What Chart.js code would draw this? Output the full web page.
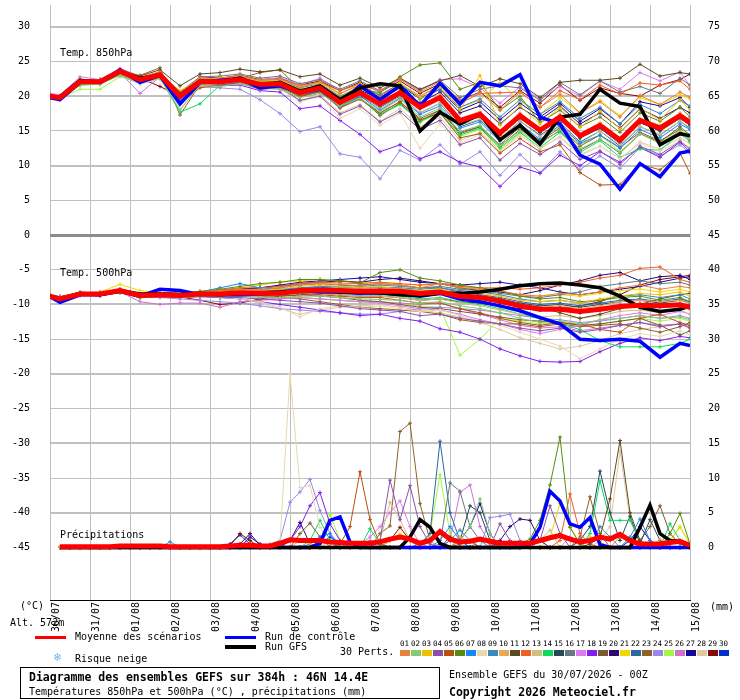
<!DOCTYPE html>
<html>
<head>
<meta charset="utf-8">
<script src="https://cdn.jsdelivr.net/npm/chart.js@4.4.1/dist/chart.umd.min.js"></script>
<style>
  body { margin: 0; background: #fff; }
  #wrap { position: relative; width: 740px; height: 700px; background: #fff; overflow: hidden; }
  #chart { position: absolute; left: 0; top: 0; }
  .t { position: absolute; font: 10px 'DejaVu Sans Mono', monospace; line-height: 12px; white-space: pre; color: #000; }
  .b { font-weight: bold; font-size: 11.5px; }
  .ln { position: absolute; }
  .num { position: absolute; font: 7.5px 'DejaVu Sans Mono', monospace; line-height: 8px; color: #000; }
  .sw { position: absolute; width: 10px; height: 6px; }
</style>
</head>
<body>
<div id="wrap">
  <canvas id="chart" width="740" height="700"></canvas>
  <div class="t" style="left:20px;top:600px">(°C)</div>
  <div class="t" style="left:10px;top:617px">Alt. 572m</div>
  <div class="t" style="left:710px;top:601px">(mm)</div>
  <div class="ln" style="left:35px;top:636px;width:31px;height:3px;background:#ff0000"></div>
  <div class="t" style="left:75px;top:631px">Moyenne des scénarios</div>
  <div class="ln" style="left:225px;top:636px;width:31px;height:3px;background:#0000ff"></div>
  <div class="t" style="left:265px;top:631px">Run de contrôle</div>
  <div class="ln" style="left:225px;top:645px;width:31px;height:4px;background:#000"></div>
  <div class="t" style="left:265px;top:641px">Run GFS</div>
  <div class="t" style="left:340px;top:646px">30 Perts.</div>
  <div class="t" style="left:54px;top:651px;font-size:12px;color:#6ab4f0">❄</div>
  <div class="t" style="left:75px;top:653px">Risque neige</div>
  <div id="perts"></div>
  <div style="position:absolute;left:20px;top:667px;width:418px;height:30px;border:1px solid #000"></div>
  <div class="t b" style="left:29px;top:671px">Diagramme des ensembles GEFS sur 384h : 46N 14.4E</div>
  <div class="t" style="left:29px;top:686px">Températures 850hPa et 500hPa (°C) , précipitations (mm)</div>
  <div class="t" style="left:449px;top:669px">Ensemble GEFS du 30/07/2026 - 00Z</div>
  <div class="t b" style="left:449px;top:686px">Copyright 2026 Meteociel.fr</div>
</div>
<script>
// time grid (hours since run start)
const hours12 = [0, 6, 18, 30, 42, 54, 66, 78, 90, 102, 114, 126, 138, 150, 162, 174, 186, 198, 210, 222, 234, 246, 258, 270, 282, 294, 306, 318, 330, 342, 354, 366, 378, 384];
const hours6 = [6, 12, 18, 24, 30, 36, 42, 48, 54, 60, 66, 72, 78, 84, 90, 96, 102, 108, 114, 120, 126, 132, 138, 144, 150, 156, 162, 168, 174, 180, 186, 192, 198, 204, 210, 216, 222, 228, 234, 240, 246, 252, 258, 264, 270, 276, 282, 288, 294, 300, 306, 312, 318, 324, 330, 336, 342, 348, 354, 360, 366, 372, 378, 384];
const dayHours = [0, 24, 48, 72, 96, 120, 144, 168, 192, 216, 240, 264, 288, 312, 336, 360, 384];
const dayLabels = ['30/07', '31/07', '01/08', '02/08', '03/08', '04/08', '05/08', '06/08', '07/08', '08/08', '09/08', '10/08', '11/08', '12/08', '13/08', '14/08', '15/08'];
const leftTicks = [-45, -40, -35, -30, -25, -20, -15, -10, -5, 0, 5, 10, 15, 20, 25, 30];
const rightTicks = [0, 5, 10, 15, 20, 25, 30, 35, 40, 45, 50, 55, 60, 65, 70, 75];

const pertLabels = ['01','02','03','04','05','06','07','08','09','10','11','12','13','14','15','16','17','18','19','20','21','22','23','24','25','26','27','28','29','30'];
const pertColors = ['#e8823a','#88c870','#f0c000','#8c50a8','#b85010','#5a8a10','#1888f8','#e8d8b0','#3a8ab8','#e8a858','#5a4a20','#f06020','#d0c080','#10d860','#284858','#687880','#e078f0','#8020f0','#7a5a30','#300870','#f0d800','#2a68a0','#906028','#9888e8','#a0f840','#d070d0','#180898','#e0c8a0','#880808','#0030c8'];

// Temp 850 hPa
const mean850 = [20.0, 19.8, 22.1, 22.1, 23.6, 22.4, 23.1, 20.0, 22.1, 22.1, 22.4, 21.7, 21.8, 20.5, 21.2, 19.1, 20.5, 18.9, 20.5, 18.4, 19.8, 16.5, 17.4, 14.7, 17.2, 15.1, 17.0, 14.3, 15.8, 13.7, 16.5, 15.4, 17.2, 16.2];
const ctrl850 = [19.8, 19.5, 22.0, 22.0, 23.8, 22.0, 23.0, 18.9, 22.0, 22.3, 22.5, 21.2, 21.5, 20.5, 21.0, 19.0, 21.5, 19.5, 21.5, 18.6, 21.9, 18.9, 22.0, 21.5, 23.1, 17.0, 16.0, 11.5, 10.2, 6.6, 10.3, 8.4, 11.8, 12.1];
const gfs850 = [20.0, 19.9, 22.3, 22.0, 23.5, 22.6, 23.0, 20.2, 22.2, 22.0, 22.6, 21.5, 22.0, 20.7, 21.5, 19.5, 21.2, 21.8, 21.5, 15.0, 17.7, 16.0, 17.4, 13.7, 15.8, 13.1, 17.0, 17.4, 21.0, 19.0, 18.5, 13.0, 14.6, 14.3];
const perts850 = [
  [20.3, 19.9, 22.4, 22.2, 23.9, 22.7, 23.5, 20.6, 22.6, 22.4, 23.0, 22.3, 22.5, 21.3, 22.1, 20.4, 21.6, 20.8, 22.5, 20.6, 22.1, 19.4, 20.5, 18.0, 20.6, 18.4, 20.3, 17.6, 19.2, 17.0, 20.1, 18.8, 20.6, 19.8],
  [19.8, 19.6, 21.6, 21.7, 23.1, 21.9, 22.6, 18.0, 21.6, 21.4, 21.8, 21.2, 21.0, 19.8, 20.4, 18.6, 19.7, 17.8, 19.6, 17.0, 18.3, 14.9, 15.8, 12.9, 15.0, 13.0, 15.2, 12.4, 13.8, 11.9, 14.6, 13.2, 15.0, 14.1],
  [20.1, 19.8, 22.2, 22.3, 23.7, 22.3, 23.2, 20.8, 22.4, 22.6, 22.7, 22.2, 22.3, 21.4, 21.9, 20.3, 21.8, 19.6, 21.9, 19.9, 21.5, 18.0, 23.0, 15.8, 18.6, 16.0, 18.4, 15.5, 17.8, 15.3, 18.3, 16.6, 19.5, 18.0],
  [19.9, 19.7, 22.0, 22.0, 23.4, 22.2, 22.9, 19.5, 21.9, 21.7, 21.9, 21.0, 21.2, 19.4, 20.0, 17.4, 18.6, 16.3, 17.8, 15.2, 16.5, 13.0, 14.0, 10.8, 13.2, 11.6, 13.4, 10.9, 12.1, 10.2, 12.8, 11.6, 13.5, 12.4],
  [19.7, 19.5, 21.8, 21.9, 23.2, 22.0, 22.7, 19.0, 21.2, 21.6, 22.0, 21.4, 21.5, 20.0, 20.6, 18.3, 19.6, 17.6, 19.2, 16.6, 17.6, 14.0, 14.6, 11.8, 13.9, 12.0, 13.0, 9.0, 7.2, 7.3, 10.2, 9.4, 11.8, 8.9],
  [20.0, 19.9, 22.2, 22.1, 23.5, 22.5, 23.0, 19.8, 22.3, 22.5, 22.7, 22.0, 22.2, 21.0, 21.5, 19.8, 21.0, 20.5, 22.8, 24.5, 24.8, 21.0, 22.0, 18.0, 20.0, 16.2, 18.0, 15.6, 17.0, 14.8, 17.6, 16.4, 18.4, 17.0],
  [19.9, 19.8, 21.9, 22.0, 23.4, 22.3, 22.9, 19.4, 21.8, 21.9, 22.2, 21.4, 21.6, 20.0, 20.8, 18.4, 20.0, 18.0, 19.7, 17.4, 18.6, 15.4, 16.3, 13.5, 16.0, 13.8, 15.8, 13.2, 14.4, 12.5, 15.2, 14.0, 16.0, 15.2],
  [19.9, 19.7, 21.8, 21.9, 23.2, 21.8, 22.5, 18.2, 21.5, 21.7, 22.0, 21.0, 21.2, 19.2, 20.0, 16.8, 18.2, 15.8, 17.6, 12.5, 16.0, 13.2, 14.5, 12.0, 14.4, 12.6, 14.0, 11.4, 12.8, 11.0, 13.2, 12.1, 13.6, 12.6],
  [20.1, 20.0, 22.3, 22.4, 23.7, 22.6, 23.3, 20.3, 22.5, 22.3, 22.8, 22.2, 22.4, 21.2, 21.8, 20.0, 21.3, 20.2, 21.8, 19.8, 21.0, 18.4, 19.6, 17.0, 19.5, 17.4, 19.2, 16.8, 18.4, 16.0, 18.8, 17.5, 19.4, 18.6],
  [20.0, 19.8, 22.0, 22.2, 23.6, 22.4, 23.0, 20.0, 22.0, 22.2, 22.5, 21.8, 21.9, 20.6, 21.4, 19.4, 20.6, 19.0, 20.8, 18.6, 20.2, 16.8, 17.8, 15.0, 17.6, 15.4, 17.4, 14.6, 16.2, 14.0, 16.8, 15.8, 17.6, 16.6],
  [20.2, 20.0, 22.3, 22.4, 23.8, 22.9, 23.8, 21.5, 23.2, 23.4, 23.9, 23.5, 23.8, 22.8, 23.2, 21.6, 22.6, 21.2, 22.6, 21.0, 22.2, 23.0, 21.4, 22.5, 21.8, 19.8, 22.0, 22.3, 22.3, 22.6, 24.6, 22.9, 23.4, 23.2],
  [20.1, 19.9, 22.3, 22.3, 23.8, 22.6, 23.3, 20.4, 22.4, 22.6, 23.0, 22.2, 22.4, 21.5, 22.0, 20.8, 21.8, 20.0, 21.8, 20.0, 21.6, 19.0, 20.4, 20.5, 20.6, 18.4, 20.8, 19.5, 21.6, 20.3, 21.9, 21.6, 22.2, 21.0],
  [19.9, 19.8, 21.9, 22.0, 23.4, 22.2, 22.8, 19.6, 21.7, 21.8, 22.0, 21.3, 21.5, 20.2, 20.9, 18.8, 20.2, 18.2, 19.9, 17.6, 19.0, 15.8, 16.7, 14.0, 16.4, 14.2, 16.0, 13.2, 15.0, 13.0, 15.6, 14.5, 16.4, 15.2],
  [19.9, 19.6, 21.6, 21.8, 23.2, 22.0, 22.6, 17.7, 18.9, 21.6, 21.8, 21.1, 21.4, 20.0, 20.6, 18.6, 19.6, 17.4, 18.8, 16.4, 17.6, 14.4, 15.4, 12.6, 14.8, 12.6, 14.8, 11.9, 13.6, 11.2, 12.4, 12.2, 14.6, 13.5],
  [20.0, 19.7, 22.1, 22.0, 23.5, 22.5, 23.1, 19.9, 22.2, 22.0, 22.5, 21.8, 22.0, 20.4, 21.0, 19.0, 20.5, 18.8, 20.4, 18.2, 19.6, 16.2, 17.0, 14.4, 16.8, 14.8, 16.6, 14.0, 15.4, 13.4, 16.2, 15.0, 16.8, 15.8],
  [20.1, 20.0, 22.4, 22.3, 23.8, 22.7, 23.5, 20.6, 22.8, 22.9, 23.2, 22.6, 22.9, 21.8, 22.4, 21.0, 22.2, 20.8, 22.6, 20.9, 22.3, 19.8, 21.0, 21.5, 21.2, 19.4, 22.0, 20.2, 22.2, 20.6, 21.4, 20.4, 22.6, 21.6],
  [20.4, 20.2, 22.8, 22.4, 24.0, 22.9, 22.6, 20.3, 22.7, 22.5, 22.8, 22.3, 22.7, 21.6, 22.6, 20.8, 21.8, 20.6, 22.4, 20.8, 22.4, 22.5, 21.2, 19.0, 21.4, 19.6, 21.4, 20.0, 22.2, 21.0, 23.4, 22.2, 23.5, 21.5],
  [19.9, 19.6, 21.9, 21.9, 23.3, 22.1, 22.8, 19.2, 21.6, 21.5, 21.6, 20.8, 20.6, 18.2, 18.6, 16.5, 14.5, 12.0, 13.0, 11.0, 12.0, 10.5, 9.8, 7.0, 9.8, 8.9, 11.5, 10.0, 12.0, 10.5, 12.6, 11.2, 13.4, 12.0],
  [19.8, 19.7, 21.8, 22.0, 23.3, 22.2, 22.7, 19.0, 21.9, 21.6, 22.0, 21.2, 21.3, 19.9, 20.7, 18.4, 19.8, 17.2, 19.0, 16.4, 18.0, 14.6, 15.6, 12.8, 15.2, 13.4, 15.0, 12.2, 13.8, 11.8, 14.6, 13.4, 15.6, 14.4],
  [20.0, 19.9, 22.2, 22.2, 23.6, 22.6, 23.2, 20.2, 22.3, 22.2, 22.6, 21.9, 22.1, 20.8, 21.5, 19.6, 20.9, 19.6, 21.2, 19.0, 20.6, 17.6, 18.6, 16.0, 18.4, 16.6, 18.6, 16.0, 17.6, 15.4, 18.2, 16.8, 18.4, 17.6],
  [20.1, 19.9, 22.3, 22.3, 23.7, 22.5, 23.3, 20.4, 22.5, 22.4, 22.8, 22.0, 22.2, 21.0, 21.6, 20.0, 21.4, 20.0, 22.0, 19.6, 21.2, 18.4, 19.4, 22.0, 19.3, 17.4, 19.8, 17.6, 19.4, 17.2, 19.8, 18.8, 20.2, 19.6],
  [19.9, 19.7, 21.9, 22.0, 23.4, 22.3, 22.9, 19.6, 21.8, 21.8, 22.1, 21.4, 21.5, 20.1, 20.8, 18.6, 20.0, 18.4, 20.0, 17.6, 19.0, 15.6, 16.6, 13.8, 16.4, 14.4, 16.2, 13.4, 15.0, 12.8, 15.6, 14.4, 16.4, 15.4],
  [19.8, 19.6, 21.7, 21.9, 23.2, 23.0, 24.1, 17.3, 21.7, 21.6, 22.6, 23.4, 23.8, 21.0, 20.6, 18.6, 19.6, 17.6, 19.2, 16.8, 18.0, 14.8, 15.6, 13.0, 15.6, 13.6, 15.4, 12.8, 14.4, 12.6, 14.8, 13.6, 15.2, 13.6],
  [19.8, 19.6, 21.7, 21.8, 23.0, 21.8, 22.5, 19.2, 21.4, 21.2, 21.0, 19.5, 17.5, 14.9, 15.6, 11.7, 11.2, 8.1, 12.2, 10.8, 13.0, 10.2, 12.0, 8.6, 11.6, 9.0, 12.0, 9.4, 11.4, 9.6, 12.6, 11.4, 13.0, 11.8],
  [19.9, 19.7, 21.0, 21.0, 22.8, 21.9, 22.6, 19.2, 21.8, 21.7, 22.0, 21.3, 21.4, 20.0, 20.8, 18.8, 19.6, 17.4, 19.0, 16.2, 17.8, 14.2, 15.2, 12.4, 14.6, 13.8, 15.6, 13.0, 14.4, 12.0, 14.6, 13.2, 15.4, 14.2],
  [20.0, 19.8, 22.2, 22.0, 23.4, 20.4, 22.8, 20.1, 22.2, 22.0, 22.4, 21.6, 21.8, 20.6, 21.2, 19.3, 20.5, 18.9, 20.6, 18.5, 20.0, 16.6, 17.6, 14.8, 17.4, 15.2, 17.2, 14.4, 16.0, 13.8, 16.6, 15.4, 17.2, 16.4],
  [20.0, 19.8, 22.2, 22.2, 23.7, 22.5, 23.2, 20.1, 22.4, 22.3, 22.6, 21.9, 22.0, 20.8, 21.4, 19.8, 21.2, 19.8, 21.6, 19.6, 21.0, 18.0, 19.2, 16.6, 19.0, 17.0, 19.0, 16.4, 18.2, 16.0, 19.2, 18.6, 19.8, 18.4],
  [19.9, 19.7, 21.8, 21.9, 23.3, 22.0, 22.6, 19.0, 21.6, 21.6, 22.0, 21.2, 21.0, 19.4, 20.2, 17.6, 18.8, 16.4, 18.2, 15.6, 17.0, 13.6, 14.8, 12.2, 14.4, 12.4, 14.2, 11.6, 12.8, 11.0, 13.4, 12.4, 14.0, 13.2],
  [20.1, 19.9, 22.3, 22.3, 23.7, 22.6, 21.4, 20.0, 22.8, 22.6, 23.0, 22.4, 22.6, 21.6, 22.2, 20.8, 22.0, 20.6, 22.2, 20.4, 21.8, 19.4, 20.6, 18.4, 20.8, 19.0, 21.6, 19.4, 21.2, 20.4, 20.0, 21.6, 22.4, 23.2],
  [20.0, 19.8, 22.1, 22.1, 23.5, 22.4, 23.0, 19.7, 22.1, 22.0, 22.3, 21.6, 21.8, 20.4, 21.1, 19.1, 20.4, 18.7, 20.4, 18.3, 19.7, 16.3, 17.2, 14.6, 17.0, 14.8, 16.8, 14.0, 15.4, 13.2, 16.2, 15.0, 17.0, 16.0]
];

// Temp 500 hPa
const mean500 = [-8.8, -9.2, -8.5, -8.5, -8.0, -8.7, -8.6, -8.7, -8.5, -8.5, -8.3, -8.4, -8.4, -8.0, -7.9, -8.0, -8.1, -8.05, -8.1, -8.4, -8.2, -8.8, -9.0, -9.5, -10.2, -10.7, -10.7, -11.0, -10.7, -10.3, -10.1, -10.2, -10.05, -10.4];
const ctrl500 = [-8.9, -9.7, -8.6, -8.6, -8.1, -8.8, -7.8, -8.0, -8.6, -8.6, -8.6, -8.5, -8.3, -8.0, -8.2, -8.2, -8.4, -8.3, -8.5, -8.8, -8.4, -9.2, -9.6, -10.2, -10.9, -11.9, -12.8, -15.0, -15.2, -15.0, -15.3, -17.6, -15.6, -15.9];
const gfs500 = [-8.8, -9.2, -8.4, -8.6, -8.0, -8.5, -8.5, -8.6, -8.4, -8.6, -8.4, -8.3, -8.2, -8.0, -7.9, -8.2, -8.2, -8.3, -8.6, -8.7, -8.4, -8.4, -8.2, -7.8, -7.3, -7.0, -6.9, -7.2, -7.6, -8.8, -10.4, -11.0, -10.7, -10.2];
const perts500 = [
  [-8.7, -8.9, -8.3, -8.4, -7.8, -8.5, -8.3, -8.4, -8.2, -8.0, -7.8, -7.9, -7.6, -7.2, -7.0, -7.1, -7.3, -7.0, -7.2, -7.6, -7.0, -7.6, -7.8, -8.0, -8.6, -8.8, -8.4, -8.6, -8.2, -7.6, -7.2, -7.8, -7.4, -7.6],
  [-8.9, -9.1, -8.7, -8.6, -8.2, -8.9, -8.8, -9.0, -8.8, -8.9, -8.8, -8.9, -9.0, -8.8, -8.8, -9.0, -9.2, -9.3, -9.4, -9.8, -9.6, -10.2, -10.6, -11.2, -12.0, -12.6, -12.4, -12.8, -12.2, -12.0, -11.6, -12.0, -11.8, -12.2],
  [-8.8, -9.0, -8.4, -8.3, -7.8, -8.6, -8.4, -8.5, -8.3, -8.2, -8.0, -8.0, -7.8, -7.4, -7.2, -7.4, -7.6, -7.4, -7.8, -8.0, -7.8, -8.4, -8.4, -8.8, -9.4, -9.6, -9.4, -9.8, -9.2, -8.8, -8.4, -8.6, -8.2, -8.8],
  [-8.8, -9.1, -8.6, -8.7, -8.3, -9.0, -8.9, -9.0, -8.9, -9.0, -9.0, -9.2, -9.4, -9.6, -9.8, -10.2, -10.6, -10.8, -11.0, -11.6, -11.4, -12.0, -12.4, -12.8, -13.4, -13.8, -13.4, -14.0, -13.6, -13.0, -12.6, -13.2, -12.8, -13.4],
  [-8.9, -9.0, -8.5, -8.6, -8.1, -8.8, -8.7, -8.8, -8.6, -8.6, -8.5, -8.6, -8.6, -8.4, -8.6, -8.8, -9.0, -9.0, -9.4, -9.8, -9.8, -10.6, -11.2, -12.0, -12.6, -13.0, -12.6, -12.8, -13.6, -14.0, -12.0, -11.4, -12.6, -13.0],
  [-8.7, -8.9, -8.4, -8.3, -7.9, -8.5, -8.4, -8.4, -8.1, -7.8, -7.4, -7.0, -6.8, -6.4, -6.4, -6.6, -6.9, -5.4, -5.0, -6.2, -6.6, -7.2, -7.6, -8.0, -8.8, -9.2, -9.0, -9.6, -9.4, -9.0, -8.8, -9.4, -9.0, -9.6],
  [-8.8, -9.0, -8.5, -8.5, -8.0, -8.7, -8.5, -8.6, -8.2, -7.6, -7.0, -7.6, -7.8, -7.6, -7.6, -7.8, -8.0, -7.8, -8.0, -8.2, -8.0, -8.6, -8.8, -9.4, -10.0, -10.6, -10.4, -11.0, -10.6, -10.2, -10.0, -10.2, -10.0, -10.4],
  [-8.9, -9.0, -8.6, -8.6, -8.2, -8.9, -8.8, -9.0, -8.8, -8.9, -9.2, -9.6, -10.4, -11.8, -10.6, -10.2, -10.4, -10.2, -10.6, -11.0, -10.8, -11.6, -12.4, -13.0, -14.0, -15.0, -16.0, -17.8, -16.4, -15.0, -14.2, -14.6, -13.8, -14.4],
  [-8.7, -8.9, -8.4, -8.4, -7.9, -8.6, -8.5, -8.5, -8.3, -8.3, -8.1, -8.1, -8.0, -7.6, -7.4, -7.5, -7.6, -7.5, -7.6, -7.8, -7.6, -8.0, -8.2, -8.6, -9.2, -9.6, -9.4, -9.8, -9.4, -8.8, -8.6, -9.0, -8.6, -9.2],
  [-8.8, -9.0, -8.5, -8.5, -8.0, -8.7, -8.6, -8.7, -8.5, -8.5, -8.3, -8.4, -8.4, -8.0, -7.9, -8.0, -8.1, -8.0, -8.1, -8.4, -8.2, -8.8, -9.0, -9.4, -10.0, -10.4, -10.2, -10.6, -10.2, -9.6, -9.4, -9.6, -9.4, -9.8],
  [-8.8, -8.9, -8.4, -8.4, -7.9, -8.6, -8.5, -8.6, -8.4, -8.3, -8.1, -8.2, -8.0, -7.6, -7.6, -7.8, -7.8, -7.8, -7.8, -8.0, -8.0, -8.4, -8.8, -9.2, -10.0, -10.4, -11.2, -12.0, -11.4, -10.6, -10.0, -9.2, -8.6, -8.4],
  [-8.7, -8.9, -8.4, -8.3, -7.8, -8.5, -8.4, -8.5, -8.2, -7.9, -7.6, -7.6, -7.4, -7.0, -6.8, -6.9, -7.0, -6.8, -7.0, -7.2, -7.0, -7.4, -7.6, -7.6, -7.8, -7.6, -7.2, -6.8, -6.2, -5.8, -4.8, -4.6, -6.4, -6.8],
  [-8.9, -9.0, -8.5, -8.6, -8.1, -8.8, -8.7, -8.8, -8.6, -8.6, -8.4, -8.5, -8.6, -8.4, -8.4, -8.6, -8.8, -8.8, -9.0, -9.4, -9.2, -9.8, -10.2, -10.8, -11.4, -11.8, -11.6, -12.0, -11.6, -11.0, -10.8, -11.2, -10.8, -11.4],
  [-8.9, -9.0, -8.6, -8.5, -8.1, -8.8, -8.6, -8.7, -8.5, -8.6, -8.4, -8.5, -8.5, -8.2, -8.2, -8.4, -8.6, -8.6, -8.8, -9.2, -9.0, -9.6, -10.0, -10.6, -11.4, -12.0, -12.8, -13.6, -15.2, -16.1, -16.1, -16.1, -15.6, -15.0],
  [-8.8, -9.0, -8.5, -8.5, -8.0, -8.7, -8.6, -8.7, -8.4, -8.4, -8.2, -8.3, -8.2, -7.9, -7.8, -7.8, -8.0, -7.9, -8.0, -8.2, -8.0, -8.6, -8.8, -9.2, -9.8, -10.2, -10.0, -10.4, -10.0, -9.6, -9.4, -9.8, -9.4, -9.8],
  [-8.7, -8.9, -8.4, -8.4, -7.9, -8.6, -8.4, -8.5, -8.2, -8.1, -7.9, -7.9, -7.6, -7.2, -7.0, -7.2, -7.4, -7.2, -7.4, -7.6, -7.4, -7.8, -8.0, -8.4, -8.8, -9.0, -8.6, -8.2, -7.4, -7.0, -6.6, -7.0, -6.8, -7.2],
  [-8.9, -9.1, -8.6, -8.6, -8.2, -8.9, -8.8, -8.9, -8.8, -8.9, -8.8, -9.0, -9.2, -9.0, -9.2, -9.4, -9.6, -9.8, -10.2, -10.6, -10.8, -11.4, -12.2, -12.8, -13.6, -14.2, -13.6, -13.0, -12.2, -11.6, -11.2, -11.6, -11.0, -11.4],
  [-8.9, -9.1, -8.6, -8.7, -8.2, -9.0, -8.8, -9.0, -8.8, -9.0, -9.2, -9.6, -10.0, -10.4, -10.8, -11.2, -11.6, -11.4, -12.0, -12.4, -13.5, -14.0, -15.0, -16.4, -17.4, -18.2, -18.3, -18.2, -16.8, -15.6, -14.8, -15.2, -14.6, -14.8],
  [-8.8, -9.0, -8.5, -8.6, -8.1, -8.8, -8.7, -8.8, -8.6, -8.7, -8.6, -8.7, -8.8, -8.6, -8.8, -9.0, -9.4, -9.6, -10.0, -10.4, -10.6, -11.0, -11.4, -11.8, -12.2, -12.4, -12.6, -13.0, -12.8, -12.4, -12.0, -13.0, -14.4, -13.8],
  [-8.7, -8.9, -8.3, -8.3, -7.8, -8.5, -8.3, -8.4, -8.2, -8.0, -7.8, -7.6, -7.4, -7.0, -6.8, -6.6, -6.8, -6.4, -6.2, -6.6, -7.0, -7.6, -8.0, -8.2, -8.6, -8.0, -7.2, -6.6, -5.8, -5.4, -6.6, -6.0, -5.8, -6.4],
  [-8.7, -8.9, -8.3, -8.2, -7.1, -8.0, -8.3, -8.4, -8.2, -8.0, -7.6, -7.2, -6.8, -6.6, -6.4, -6.6, -6.9, -6.8, -7.0, -7.2, -7.0, -7.4, -7.8, -8.2, -8.6, -8.8, -8.6, -8.8, -8.4, -8.0, -7.8, -8.2, -7.8, -8.2],
  [-8.8, -9.0, -8.5, -8.5, -8.0, -8.6, -8.6, -8.6, -8.4, -8.4, -8.2, -8.2, -8.1, -7.8, -7.6, -7.4, -7.2, -7.0, -7.2, -7.6, -7.6, -8.2, -8.6, -9.0, -9.6, -10.0, -9.8, -10.2, -9.8, -9.4, -9.2, -9.6, -9.2, -9.6],
  [-8.9, -9.0, -8.6, -8.6, -8.1, -8.8, -8.7, -8.8, -8.6, -8.7, -8.6, -8.8, -9.0, -9.2, -9.6, -10.0, -10.4, -10.6, -10.8, -11.0, -11.4, -12.2, -12.6, -12.8, -12.8, -13.2, -12.8, -13.2, -13.0, -12.8, -13.4, -14.0, -13.2, -12.6],
  [-8.9, -9.1, -8.7, -8.7, -8.3, -9.0, -9.0, -9.2, -9.4, -9.6, -9.8, -10.2, -10.6, -10.8, -11.0, -11.2, -11.4, -11.4, -11.0, -10.6, -10.4, -10.6, -10.8, -11.2, -11.6, -12.0, -12.2, -12.6, -12.4, -12.0, -11.6, -12.0, -11.6, -12.0],
  [-8.9, -9.2, -8.7, -8.7, -8.3, -9.1, -8.8, -9.0, -8.8, -8.9, -8.8, -8.9, -9.0, -9.0, -9.2, -9.4, -9.6, -9.8, -10.0, -10.2, -10.4, -17.3, -15.0, -12.0, -12.4, -12.8, -12.6, -13.0, -12.8, -12.4, -12.0, -12.4, -12.0, -12.4],
  [-8.9, -9.1, -8.6, -8.7, -8.2, -9.6, -10.0, -9.8, -9.8, -10.4, -9.6, -9.4, -9.2, -9.0, -9.2, -9.4, -9.6, -9.6, -9.8, -10.0, -9.8, -10.6, -11.4, -12.2, -13.0, -13.4, -13.2, -13.8, -13.4, -13.0, -12.6, -13.0, -12.8, -13.2],
  [-8.7, -8.9, -8.3, -8.3, -7.9, -8.5, -8.3, -8.4, -8.2, -8.0, -7.8, -7.6, -7.2, -6.8, -6.6, -6.4, -6.2, -6.0, -6.4, -6.8, -7.0, -7.2, -7.0, -6.8, -7.2, -7.6, -8.2, -8.6, -8.2, -7.8, -7.4, -6.8, -6.2, -6.0],
  [-8.8, -9.0, -8.5, -8.6, -8.1, -8.8, -8.7, -8.8, -8.6, -8.8, -9.2, -9.8, -10.6, -11.4, -10.8, -10.4, -10.2, -10.0, -10.4, -10.8, -11.2, -11.8, -12.6, -13.6, -14.8, -15.6, -16.4, -16.0, -15.2, -14.2, -13.6, -13.2, -12.8, -13.4],
  [-8.8, -9.0, -8.5, -8.6, -8.1, -8.8, -8.7, -8.9, -9.4, -10.0, -9.8, -9.2, -8.8, -8.6, -8.4, -8.6, -8.8, -8.8, -9.0, -9.4, -9.2, -9.6, -9.8, -10.2, -10.6, -10.8, -10.6, -10.2, -9.6, -8.6, -7.2, -6.4, -6.0, -5.8],
  [-8.8, -9.1, -8.6, -8.6, -8.1, -8.8, -8.6, -8.7, -8.5, -8.5, -8.4, -8.5, -8.4, -8.2, -8.1, -8.2, -8.3, -8.2, -8.4, -8.6, -8.4, -9.0, -9.2, -9.8, -10.4, -10.8, -10.8, -11.2, -10.8, -10.4, -10.2, -10.4, -10.2, -10.6]
];

// Precipitation (mm per 6 h), right axis
const meanPrecip = [0.1, 0.1, 0.1, 0.1, 0.1, 0.1, 0.2, 0.2, 0.2, 0.2, 0.2, 0.1, 0.1, 0.1, 0.1, 0.1, 0.1, 0.2, 0.3, 0.3, 0.2, 0.2, 0.6, 1.1, 1.0, 1.0, 1.0, 0.8, 0.7, 0.6, 0.6, 0.6, 0.8, 1.2, 1.5, 1.2, 0.6, 1.0, 2.3, 1.2, 0.8, 0.9, 1.2, 0.9, 0.6, 0.6, 0.6, 0.6, 1.0, 1.4, 1.7, 1.2, 0.8, 1.0, 1.5, 1.2, 1.9, 1.0, 0.5, 0.5, 0.5, 0.7, 0.9, 0.3];
// [hour, mm] for the non-zero steps; every other step reads 0
const ctrlPrecip = [[162, 0.6], [168, 3.9], [174, 4.4], [180, 0.8], [288, 0.5], [294, 2.9], [300, 8.1], [306, 6.7], [312, 3.4], [318, 2.9], [324, 4.3], [330, 0.4]];
const gfsPrecip = [[216, 1.5], [222, 4.0], [228, 2.9], [234, 0.6], [354, 2.9], [360, 6.1], [366, 2.0], [372, 1.0], [378, 0.9]];
const pertsPrecip = [
  [[258, 1.2], [264, 0.5], [342, 1.5], [348, 0.8]],
  [[246, 1.0], [252, 3.0], [258, 7.0], [264, 2.0]],
  [[150, 1.0], [156, 0.5], [324, 1.5], [330, 0.8]],
  [[198, 1.0], [204, 9.7], [210, 4.0], [216, 8.9], [222, 3.0], [228, 0.5], [270, 3.4], [276, 1.0], [294, 1.0], [300, 6.0], [306, 2.0]],
  [[174, 0.5], [180, 3.0], [186, 10.9], [192, 4.0], [198, 0.5], [246, 0.5], [252, 1.0]],
  [[282, 0.5], [288, 1.2], [294, 3.9], [300, 9.0], [306, 15.9], [312, 2.9], [318, 0.5], [372, 2.0], [378, 4.9], [384, 0.5]],
  [[156, 0.5], [162, 1.5], [168, 2.0], [234, 1.0], [240, 3.0], [246, 1.0], [348, 1.5], [354, 4.1], [360, 1.0]],
  [[138, 0.8], [144, 25.0], [150, 8.6], [156, 8.9], [162, 2.9], [168, 0.5], [228, 1.0]],
  [[72, 0.8], [240, 1.0], [246, 2.5], [252, 1.0], [330, 3.0], [336, 1.5]],
  [[168, 1.0], [174, 0.5], [246, 1.5], [252, 0.8], [366, 1.2]],
  [[324, 0.5], [330, 1.5], [336, 7.0], [342, 15.4], [348, 5.0], [354, 1.0]],
  [[306, 1.0], [312, 7.7], [318, 2.0], [324, 0.5]],
  [[198, 1.0], [204, 6.5], [210, 4.0], [216, 1.0], [294, 1.0], [300, 2.5]],
  [[156, 1.0], [162, 3.9], [168, 1.0], [192, 2.7], [198, 0.5], [324, 2.0], [330, 9.6], [336, 3.9], [342, 3.9], [348, 3.9], [354, 1.0], [372, 3.4], [378, 1.0]],
  [[240, 1.5], [246, 1.0], [252, 6.0], [258, 5.0], [264, 1.0], [318, 1.0], [324, 3.0], [330, 11.0], [336, 5.0], [342, 1.0], [348, 4.5], [354, 0.5], [360, 4.0], [366, 1.0]],
  [[234, 0.5], [240, 9.3], [246, 8.1], [252, 3.0], [258, 1.0]],
  [[186, 0.5], [192, 1.5], [198, 3.0], [204, 5.0], [210, 6.7], [216, 3.0], [222, 0.5], [312, 1.5], [318, 0.5]],
  [[144, 1.0], [150, 3.0], [156, 6.0], [162, 7.9], [168, 3.4], [174, 1.0], [186, 0.5]],
  [[150, 2.0], [156, 3.5], [162, 1.5], [354, 1.0], [360, 3.0], [366, 6.0], [372, 2.0], [378, 0.5]],
  [[114, 0.5], [120, 2.0], [126, 0.3], [144, 1.0], [150, 3.6], [156, 0.5], [270, 1.0], [276, 3.0], [282, 4.1], [288, 3.9], [294, 1.0]],
  [[204, 1.0], [210, 2.0], [216, 1.0], [300, 1.5], [306, 6.3], [312, 3.0], [318, 0.5], [372, 1.0], [378, 2.9], [384, 0.5]],
  [[222, 0.5], [228, 2.0], [234, 15.3], [240, 5.0], [246, 1.0]],
  [[198, 2.0], [204, 3.1], [210, 16.7], [216, 17.9], [222, 6.3], [228, 1.0], [318, 1.5], [324, 7.3], [330, 2.0]],
  [[132, 0.5], [138, 1.0], [144, 6.5], [150, 8.0], [156, 9.8], [162, 5.3], [168, 2.0], [174, 0.5], [264, 4.3], [270, 4.5], [276, 4.8], [282, 1.0]],
  [[162, 1.0], [168, 4.8], [174, 1.0], [228, 2.0], [234, 10.5], [240, 2.0], [372, 1.0], [378, 3.0], [384, 0.5]],
  [[192, 1.0], [198, 0.5], [240, 1.0], [246, 7.9], [252, 9.0], [258, 3.0], [264, 0.5]],
  [[120, 1.5], [126, 0.5], [246, 1.0], [252, 3.0], [258, 6.3], [264, 2.0], [348, 1.0], [354, 3.0], [360, 1.0]],
  [[330, 1.0], [336, 3.0], [342, 13.9], [348, 4.0], [354, 0.5]],
  [[108, 0.3], [114, 2.0], [120, 1.0], [204, 1.0], [210, 2.9], [216, 1.0]],
  [[108, 0.5], [114, 1.8], [120, 0.5], [162, 0.5], [168, 1.5], [174, 0.5]]
];

const panelLabels = [
  { text: 'Temp. 850hPa', x: 60, y: 53 },
  { text: 'Temp. 500hPa', x: 60, y: 273 },
  { text: 'Précipitations', x: 60, y: 535 }
];

function toPoints(hours, values) {
  return values.map((v, i) => ({ x: hours[i], y: v }));
}

function fromSteps(steps) {
  return hours6.map(h => {
    const hit = steps.find(s => s[0] === h);
    return { x: h, y: hit ? hit[1] : 0 };
  });
}

function pertLine(points, i, axis) {
  return {
    data: points,
    yAxisID: axis,
    borderColor: pertColors[i],
    borderWidth: 1,
    pointStyle: 'cross',
    pointRadius: 2,
    pointBorderWidth: 1,
    pointBorderColor: pertColors[i],
    order: 3
  };
}

function mainLine(points, color, width, axis, order) {
  return { data: points, yAxisID: axis, borderColor: color, borderWidth: width, pointRadius: 0, order };
}

const datasets = [
  mainLine(toPoints(hours12, mean850), '#ff0000', 5, 'y', 0),
  mainLine(toPoints(hours12, mean500), '#ff0000', 5, 'y', 0),
  mainLine(toPoints(hours6, meanPrecip), '#ff0000', 5, 'y2', 0),
  mainLine(toPoints(hours12, gfs850), '#000000', 3.5, 'y', 1),
  mainLine(toPoints(hours12, gfs500), '#000000', 3.5, 'y', 1),
  mainLine(fromSteps(gfsPrecip), '#000000', 3.5, 'y2', 1),
  mainLine(toPoints(hours12, ctrl850), '#0000ff', 3.5, 'y', 2),
  mainLine(toPoints(hours12, ctrl500), '#0000ff', 3.5, 'y', 2),
  mainLine(fromSteps(ctrlPrecip), '#0000ff', 3.5, 'y2', 2)
];
perts850.forEach((row, i) => datasets.push(pertLine(toPoints(hours12, row), i, 'y')));
perts500.forEach((row, i) => datasets.push(pertLine(toPoints(hours12, row), i, 'y')));
pertsPrecip.forEach((steps, i) => datasets.push(pertLine(fromSteps(steps), i, 'y2')));

const labelPlugin = {
  id: 'panelLabels',
  afterDraw(chart) {
    const ctx = chart.ctx;
    ctx.save();
    ctx.font = "10px 'DejaVu Sans Mono'";
    ctx.fillStyle = '#000';
    ctx.textBaseline = 'middle';
    panelLabels.forEach(l => ctx.fillText(l.text, l.x, l.y));
    ctx.restore();
  }
};

// perturbation colour key
const key = document.getElementById('perts');
pertLabels.forEach((lab, i) => {
  const n = document.createElement('div');
  n.className = 'num';
  n.style.left = (400 + i * 11) + 'px';
  n.style.top = '640px';
  n.textContent = lab;
  key.appendChild(n);
  const s = document.createElement('div');
  s.className = 'sw';
  s.style.left = (400 + i * 11) + 'px';
  s.style.top = '650px';
  s.style.background = pertColors[i];
  key.appendChild(s);
});

Chart.defaults.font.family = "'DejaVu Sans Mono', monospace";
Chart.defaults.font.size = 10;
Chart.defaults.color = '#000';

new Chart(document.getElementById('chart'), {
  type: 'line',
  data: { datasets },
  options: {
    responsive: false,
    animation: false,
    devicePixelRatio: 1,
    layout: { padding: 0 },
    elements: { line: { tension: 0 } },
    plugins: { legend: { display: false }, tooltip: { enabled: false } },
    scales: {
      x: {
        type: 'linear',
        min: 0,
        max: 384,
        afterBuildTicks: s => { s.ticks = dayHours.map(v => ({ value: v })); },
        afterFit: s => { s.height = 100; s.paddingLeft = 0; s.paddingRight = 0; },
        ticks: {
          autoSkip: false,
          minRotation: 90,
          maxRotation: 90,
          labelOffset: 6,
          padding: 2,
          callback: (v, i) => dayLabels[i]
        },
        grid: { color: '#c0c0c0', lineWidth: 1, drawTicks: false },
        border: { display: true, color: '#000', width: 1 }
      },
      y: {
        position: 'left',
        min: -52.57,
        max: 33.14,
        afterBuildTicks: s => { s.ticks = leftTicks.map(v => ({ value: v })); },
        afterFit: s => { s.width = 50; s.paddingTop = 0; s.paddingBottom = 0; },
        ticks: { padding: 20 },
        grid: {
          drawTicks: false,
          color: c => {
            const v = c.tick.value;
            if (v === 0) return '#8c8c8c';
            if (v === -45) return 'rgba(0,0,0,0)';
            return '#c0c0c0';
          },
          lineWidth: c => {
            const v = c.tick.value;
            if (v === 0) return 3;
            return v % 10 === 0 ? 2 : 1;
          }
        },
        border: { display: false }
      },
      y2: {
        position: 'right',
        min: -7.57,
        max: 78.14,
        afterBuildTicks: s => { s.ticks = rightTicks.map(v => ({ value: v })); },
        afterFit: s => { s.width = 50; s.paddingTop = 0; s.paddingBottom = 0; },
        ticks: { padding: 18 },
        grid: { display: false, drawTicks: false },
        border: { display: false }
      }
    }
  },
  plugins: [labelPlugin]
});
</script>
</body>
</html>
